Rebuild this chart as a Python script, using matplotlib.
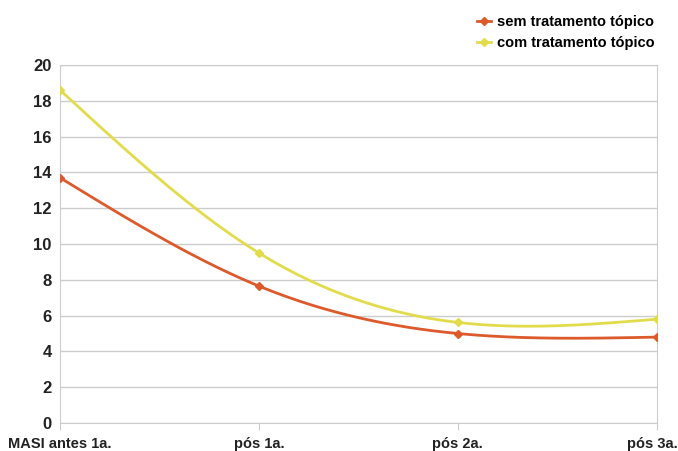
import matplotlib
matplotlib.use("Agg")
import matplotlib.pyplot as plt
import numpy as np
from matplotlib.lines import Line2D

categories = ["MASI antes 1a.", "pós 1a.", "pós 2a.", "pós 3a."]
sem_tratamento = [13.7, 7.65, 5.0, 4.8]
com_tratamento = [18.6, 9.5, 5.62, 5.8]
yticks = [0, 2, 4, 6, 8, 10, 12, 14, 16, 18, 20]

RED = "#dc5a2c"
YELLOW = "#e2dc4c"


def natural_spline(x, y, n=200):
    # natural cubic spline, like the office chart smoothing
    x = np.asarray(x, float)
    y = np.asarray(y, float)
    k = len(x)
    h = np.diff(x)
    A = np.zeros((k, k))
    b = np.zeros(k)
    A[0, 0] = A[-1, -1] = 1
    for i in range(1, k - 1):
        A[i, i - 1] = h[i - 1]
        A[i, i] = 2 * (h[i - 1] + h[i])
        A[i, i + 1] = h[i]
        b[i] = 3 * ((y[i + 1] - y[i]) / h[i] - (y[i] - y[i - 1]) / h[i - 1])
    c = np.linalg.solve(A, b)
    xs = np.linspace(x[0], x[-1], n)
    idx = np.clip(np.searchsorted(x, xs) - 1, 0, k - 2)
    dx = xs - x[idx]
    bb = (y[1:] - y[:-1]) / h - h * (2 * c[:-1] + c[1:]) / 3
    d = (c[1:] - c[:-1]) / (3 * h)
    ys = y[idx] + bb[idx] * dx + c[idx] * dx ** 2 + d[idx] * dx ** 3
    return xs, ys


fig = plt.figure(figsize=(6.78, 4.51), dpi=100)
ax = fig.add_axes([0.0885, 0.062, 0.88, 0.794])

x = np.arange(len(categories))
for vals, col in [(sem_tratamento, RED), (com_tratamento, YELLOW)]:
    xs, ys = natural_spline(x, vals)
    ax.plot(xs, ys, color=col, lw=2.0, solid_capstyle="round", zorder=3)
    ax.plot(x, vals, ls="none", marker="D", ms=4, color=col, zorder=4)

ax.set_xlim(0, len(categories) - 1)
ax.set_ylim(0, 20)
ax.set_yticks(yticks)
ax.set_yticklabels([str(v) for v in yticks], fontsize=12, fontweight="bold",
                   family="Liberation Sans", color="#222222")
ax.set_xticks(x)
label_font = dict(fontsize=10.5, fontweight="bold", family="Liberation Sans",
                  color="#222222")
# last label hangs past the plot edge, right-aligned to the figure edge
ax.set_xticklabels(categories[:-1] + [""], **label_font)
ax.annotate(categories[-1], xy=(x[-1], 0), xytext=(15, -10),
            textcoords="offset points", ha="right", va="top",
            annotation_clip=False, **label_font)
ax.grid(axis="y", color="#cccccc", lw=1)
ax.set_axisbelow(True)
for s in ax.spines.values():
    s.set_color("#cccccc")
ax.tick_params(axis="y", length=0, pad=6)
ax.tick_params(axis="x", length=5, color="#cccccc", pad=5)

handles = [
    Line2D([], [], color=RED, lw=2, marker="D", ms=4),
    Line2D([], [], color=YELLOW, lw=2, marker="D", ms=4),
]
fig.legend(handles, ["sem tratamento tópico", "com tratamento tópico"],
           loc="upper right", bbox_to_anchor=(0.985, 0.995), frameon=False,
           handlelength=1.0, handletextpad=0.4, labelspacing=0.45,
           prop={"family": "Liberation Sans", "weight": "bold", "size": 10.5})

fig.savefig("out.png", dpi=100)
